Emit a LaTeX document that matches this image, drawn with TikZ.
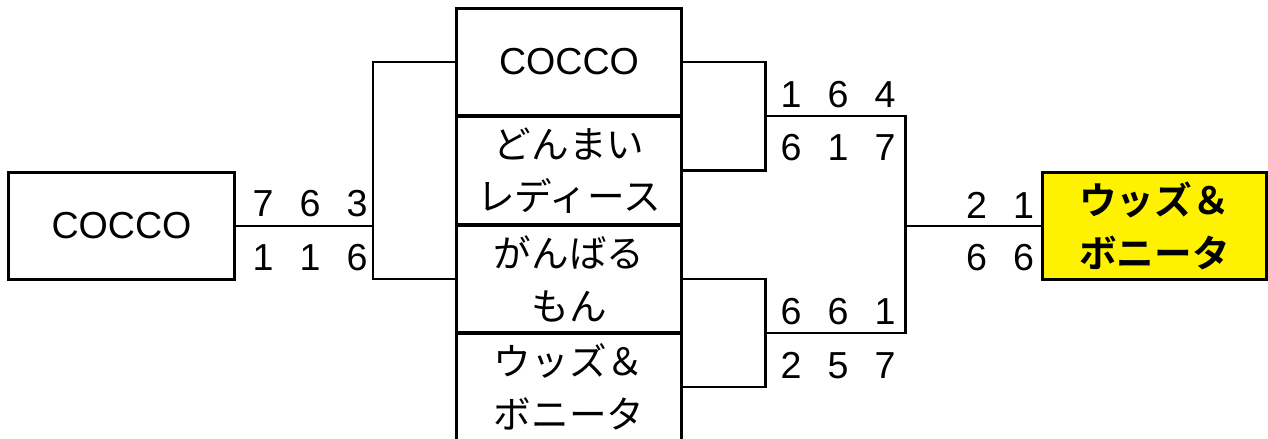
\documentclass[tikz,border=0pt]{standalone}
\usepackage{fontspec}
\setmainfont{Noto Sans CJK JP}[BoldFont={Noto Sans CJK JP Bold}]
\newfontfamily\latinfont{Liberation Sans}
\newcommand{\cell}[1]{\makebox[0.94cm]{#1}}

\begin{document}
\begin{tikzpicture}[x=0.02cm,y=-0.02cm,line width=1.7pt]
      \useasboundingbox (0,0) rectangle (1268,439);

      \begin{scope}[every node/.style={rectangle,draw,inner sep=0pt,align=center,
          font=\fontsize{21.4}{30}\selectfont}]
        \node[minimum width=4.54cm,minimum height=2.16cm] (1) at (121.5,226) {\latinfont COCCO};
        \node[minimum width=4.52cm,minimum height=2.16cm] (2) at (569,62)   {\latinfont COCCO};
        \node[minimum width=4.52cm,minimum height=2.18cm] (3) at (569,170.5) {どんまい\\レディース};
        \node[minimum width=4.52cm,minimum height=2.16cm] (4) at (569,279)  {がんばる\\もん};
        \node[minimum width=4.52cm,minimum height=2.16cm] (5) at (569,387)  {ウッズ＆\\ボニータ};
        \node[minimum width=4.5cm,minimum height=2.16cm,fill=yellow,
          font=\fontsize{21.4}{30}\selectfont\bfseries] (6) at (1154.5,226) {ウッズ＆\\ボニータ};
      \end{scope}

      \coordinate (b1) at (373,226);
      \coordinate (b2) at (765,116);
      \coordinate (b3) at (765,333);
      \coordinate (b4) at (905,226);

      \draw (1) -- (b1);
      \draw (2.west) -| (b1) |- (4.west);
      \draw (2.east) -| (b2) |- (3.east);
      \draw (4.east) -| (b3) |- (5.east);
      \draw (b2) -| (b4) |- (b3);
      \draw (b4) -- (6);

      \begin{scope}[every node/.style={inner sep=0pt,font=\fontsize{21.4}{30}\latinfont}]
        \node (s1) at (310,204) {\cell{7}\cell{6}\cell{3}};
        \node (s2) at (310,258) {\cell{1}\cell{1}\cell{6}};
        \node (s3) at (838,95)  {\cell{1}\cell{6}\cell{4}};
        \node (s4) at (838,148) {\cell{6}\cell{1}\cell{7}};
        \node (s5) at (838,312) {\cell{6}\cell{6}\cell{1}};
        \node (s6) at (838,366) {\cell{2}\cell{5}\cell{7}};
        \node (s7) at (1000,205) {\cell{2}\cell{1}};
        \node (s8) at (1000,258) {\cell{6}\cell{6}};
      \end{scope}

    \end{tikzpicture}
\end{document}
